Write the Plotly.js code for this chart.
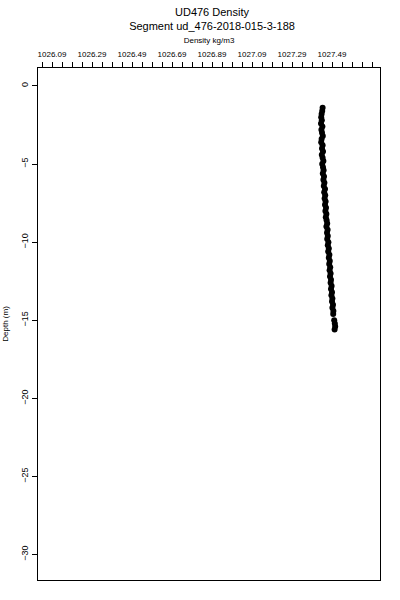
<!DOCTYPE html>
<html>
<head>
<meta charset="utf-8">
<script src="https://cdn.plot.ly/plotly-3.0.1.min.js"></script>
<style>html,body{margin:0;padding:0;background:#fff}#chart{width:400px;height:600px}</style>
</head>
<body>
<div id="chart"></div>
<script>
// Depth (m) of each sample
const depth = [
  -1.4, -1.6, -1.8, -2.0, -2.2, -2.4, -2.6, -2.8, -3.0, -3.2,
  -3.4, -3.6, -3.8, -4.0, -4.2, -4.4, -4.6, -4.8, -5.0, -5.2,
  -5.4, -5.6, -5.8, -6.0, -6.2, -6.4, -6.6, -6.8, -7.0, -7.2,
  -7.4, -7.6, -7.8, -8.0, -8.2, -8.4, -8.6, -8.8, -9.0, -9.2,
  -9.4, -9.6, -9.8, -10.0, -10.2, -10.4, -10.6, -10.8, -11.0, -11.2,
  -11.4, -11.6, -11.8, -12.0, -12.2, -12.4, -12.6, -12.8, -13.0, -13.2,
  -13.4, -13.6, -13.8, -14.0, -14.2, -14.4, -14.6, -15.0, -15.2, -15.4, -15.6
];
// Density (kg/m3) of each sample
const density = [
  1027.443, 1027.441, 1027.438, 1027.436, 1027.439, 1027.435, 1027.442, 1027.437, 1027.440, 1027.444,
  1027.438, 1027.436, 1027.443, 1027.440, 1027.445, 1027.439, 1027.443, 1027.447, 1027.441, 1027.445,
  1027.448, 1027.444, 1027.450, 1027.447, 1027.452, 1027.449, 1027.455, 1027.451, 1027.456, 1027.453,
  1027.458, 1027.455, 1027.460, 1027.457, 1027.462, 1027.459, 1027.463, 1027.466, 1027.462, 1027.468,
  1027.465, 1027.469, 1027.466, 1027.472, 1027.469, 1027.474, 1027.471, 1027.477, 1027.474, 1027.479,
  1027.476, 1027.481, 1027.478, 1027.483, 1027.480, 1027.485, 1027.483, 1027.488, 1027.485, 1027.490,
  1027.487, 1027.492, 1027.490, 1027.495, 1027.492, 1027.497, 1027.496, 1027.501, 1027.504, 1027.506, 1027.503
];
// Axis tick values / labels
const xTickVals = [1026.09, 1026.29, 1026.49, 1026.69, 1026.89, 1027.09, 1027.29, 1027.49];
const xTickText = ["1026.09", "1026.29", "1026.49", "1026.69", "1026.89", "1027.09", "1027.29", "1027.49"];
const yTickVals = [0, -5, -10, -15, -20, -25, -30];

const font = "Liberation Sans, Arial, sans-serif";

const trace = {
  type: 'scatter',
  mode: 'markers',
  x: density,
  y: depth,
  marker: {color: '#000', size: 6, line: {width: 0}},
  hoverinfo: 'x+y'
};

const layout = {
  width: 400,
  height: 600,
  paper_bgcolor: '#fff',
  plot_bgcolor: '#fff',
  showlegend: false,
  margin: {l: 38, r: 20, t: 68, b: 20},
  font: {family: font, color: '#000', size: 8},
  title: {
    text: 'UD476 Density<br>Segment ud_476-2018-015-3-188',
    font: {family: font, size: 11, color: '#000'},
    x: 0.53, xanchor: 'center',
    y: 0.974, yanchor: 'bottom', yref: 'container'
  },
  xaxis: {
    side: 'top',
    range: [1026.02, 1027.73],
    tickmode: 'array',
    tickvals: xTickVals,
    ticktext: xTickText,
    ticks: 'outside',
    ticklen: 5,
    tickwidth: 1,
    tickcolor: '#000',
    minor: {tickmode: 'linear', tick0: 1026.09, dtick: 0.05, ticks: 'outside', ticklen: 5, tickwidth: 1, tickcolor: '#000', showgrid: false},
    tickfont: {family: font, size: 8, color: '#000'},
    ticklabelstandoff: 2,
    showgrid: false,
    zeroline: false,
    showline: true,
    linecolor: '#000',
    linewidth: 1,
    mirror: true,
    fixedrange: true,
    title: {text: 'Density kg/m3', font: {family: font, size: 8, color: '#000'}, standoff: 4}
  },
  yaxis: {
    range: [-31.63, 1.15],
    tickmode: 'array',
    tickvals: yTickVals,
    ticks: 'outside',
    ticklen: 5,
    tickwidth: 1,
    tickcolor: '#000',
    tickangle: -90,
    tickfont: {family: font, size: 9, color: '#000'},
    showgrid: false,
    zeroline: false,
    showline: true,
    linecolor: '#000',
    linewidth: 1,
    mirror: true,
    fixedrange: true,
    title: {text: 'Depth (m)', font: {family: font, size: 8, color: '#000'}, standoff: 10}
  }
};

Plotly.newPlot('chart', [trace], layout, {displayModeBar: false, staticPlot: true});
</script>
</body>
</html>
